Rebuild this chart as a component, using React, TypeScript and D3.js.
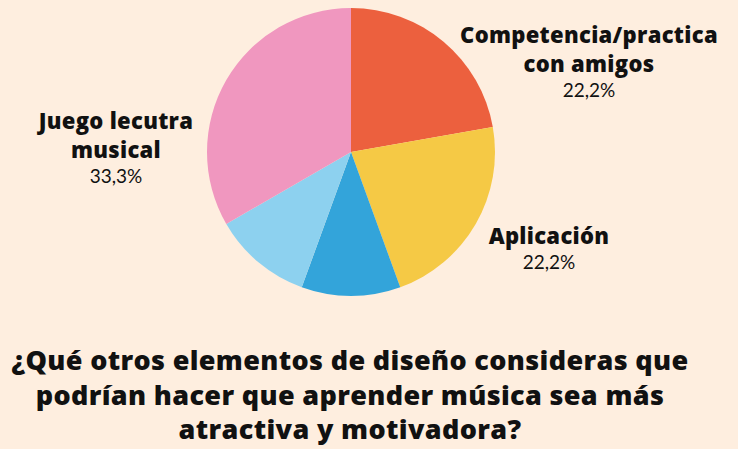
import React from "react";
import * as d3 from "d3";

const categories = ["Competencia/practica con amigos", "Aplicación", "Otro A", "Otro B", "Juego lecutra musical"];
const values = [22.2, 22.2, 11.1, 11.1, 33.3];
const labelLines = [["Competencia/practica", "con amigos"], ["Aplicación"], [], [], ["Juego lecutra", "musical"]];
const percentLabels = ["22,2%", "22,2%", "", "", "33,3%"];
const colors = ["#EC603E", "#F5C945", "#33A4DA", "#8DD1EF", "#F097BF"];
const titleLines = [
  "¿Qué otros elementos de diseño consideras que",
  "podrían hacer que aprender música sea más",
  "atractiva y motivadora?",
];

// where each label block sits (center x, baseline of first line)
const labelPos = [
  { x: 589, y: 43 },
  { x: 549, y: 244 },
  null,
  null,
  { x: 116, y: 129 },
];

const width = 738;
const height = 449;

const App = () => {
  const cx = 351;
  const cy = 152;
  const radius = 144;

  const data = categories.map((c, i) => ({ name: c, value: values[i], i }));
  const pie = d3.pie<any>().sort(null).value((d) => d.value);
  const arcs = pie(data);
  const arc = d3.arc<any>().innerRadius(0).outerRadius(radius);

  const boldFont = "'Open Sans', sans-serif";
  const font = "Lato, sans-serif";

  return (
    <svg
      width={width}
      height={height}
      style={{ position: "absolute", left: 0, top: 0, background: "#FEEEDF" }}
    >
      <rect width={width} height={height} fill="#FEEEDF" />
      <g transform={`translate(${cx},${cy})`}>
        {arcs.map((a) => (
          <path key={a.data.name} d={arc(a) || ""} fill={colors[a.data.i]} />
        ))}
      </g>

      {/* Slice labels */}
      {labelPos.map((p, i) =>
        p ? (
          <g key={`lab-${i}`} textAnchor="middle" fill="#111">
            {labelLines[i].map((ln, j) => (
              <text key={j} x={p.x} y={p.y + j * 29} fontSize={22} fontWeight={800} fontFamily={boldFont} letterSpacing={0.3}>
                {ln}
              </text>
            ))}
            <text x={p.x} y={p.y + (labelLines[i].length - 1) * 29 + 25} fontSize={19} fontFamily={font}>
              {percentLabels[i]}
            </text>
          </g>
        ) : null
      )}

      {/* Title */}
      <g fontFamily={boldFont} textAnchor="middle" fill="#111" fontWeight={800}>
        {titleLines.map((t, i) => (
          <text key={i} x={350} y={370 + i * 34.5} fontSize={27} letterSpacing={0.35}>
            {t}
          </text>
        ))}
      </g>
    </svg>
  );
};

export default App;
